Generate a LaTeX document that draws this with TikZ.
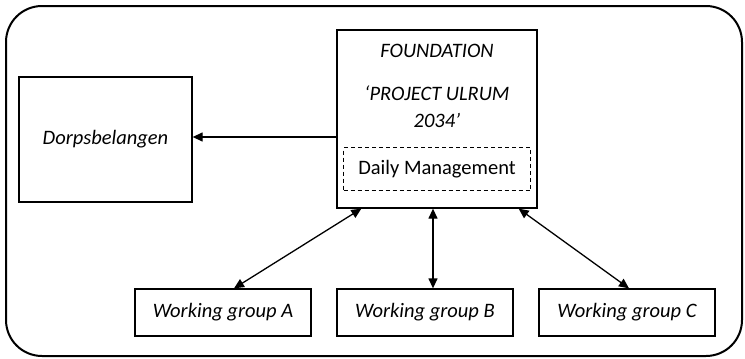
\documentclass[tikz,border=0pt]{standalone}
\usepackage{fontspec}
\setmainfont{Carlito}
\usetikzlibrary{positioning,arrows.meta}

\begin{document}
\begin{tikzpicture}[
    x=1pt, y=-1pt,
    box/.style={draw, line width=1.3pt, inner sep=0pt},
    txt/.style={font=\fontsize{20.5}{24}\selectfont\itshape},
    link/.style={line width=1.3pt, {Triangle[length=10pt,width=9pt]}-{Triangle[length=10pt,width=9pt]}},
    onelink/.style={line width=1.3pt, -{Triangle[length=10pt,width=9pt]}}
  ]
  \useasboundingbox (0,0) rectangle (745,359);
  \draw[line width=2pt, rounded corners=36pt] (6,6) rectangle (742,356);

  \node[box, minimum width=200pt, minimum height=178pt] (fnd) at (437,119) {};
  \node[txt] (fndname) at (437,51) {FOUNDATION};
  \node[txt, align=center] (project) at (437,107) {‘PROJECT ULRUM\\[3pt]2034’};
  \node[draw, dash pattern=on 4pt off 3pt, line width=1pt, minimum width=187pt, minimum height=43pt,
        font=\fontsize{20.5}{24}\selectfont] (daily) at (437,169) {Daily Management};

  \node[box, txt, minimum width=173pt, minimum height=125pt] (dorp) at (105.5,139.5) {Dorpsbelangen};

  \node[box, txt, minimum width=176pt, minimum height=47pt] (wgA) at (223,312.5) {Working group A};
  \node[box, txt, minimum width=176pt, minimum height=47pt] (wgB) at (425,312.5) {Working group B};
  \node[box, txt, minimum width=176pt, minimum height=47pt] (wgC) at (627,312.5) {Working group C};

  \coordinate (arrL) at ([yshift=-18pt]fnd.west);
  \draw[onelink] (arrL) -- (arrL -| dorp.east);
  \draw[link] ([xshift=25pt]fnd.south west) -- ([xshift=11pt]wgA.north);
  \draw[link] ([xshift=-4pt]fnd.south) -- ([xshift=8pt]wgB.north);
  \draw[link] ([xshift=-19pt]fnd.south east) -- ([xshift=2pt]wgC.north);
\end{tikzpicture}
\end{document}
